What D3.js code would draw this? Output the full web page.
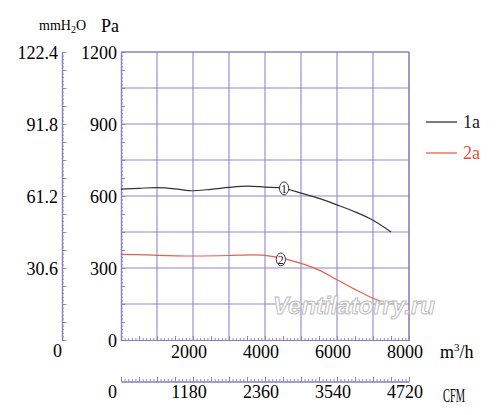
<!DOCTYPE html>
<html><head><meta charset="utf-8">
<script src="https://cdn.jsdelivr.net/npm/d3@7"></script>
<style>body{margin:0;background:#fff}svg{display:block}text{font-family:"Liberation Serif","DejaVu Serif",serif}text.wm{font-family:"Liberation Sans",Arial,sans-serif}</style>
</head><body>
<svg id="c" width="500" height="415"></svg>
<script>
// ---- data ----
const flow1 = [0,500,1000,1500,1900,2500,3000,3500,4000,4500,5000,5500,6000,6500,7000,7500];
const pa1   = [629,632,635,630,622,628,636,641,637,633,612,590,563,534,499,450];
const flow2 = [0,500,1000,2000,3000,3600,4000,4500,5000,5500,6000,6500,7000,7240];
const pa2   = [357,356,353,350,352,355,353,340,319,291,251,211,174,160];
const seriesNames = ["1a","2a"];
const markerLabels = ["1","2"];
const markerFlow = [4530,4440];
const markerPa = [632,336];
const paTicks = [0,300,600,900,1200];
const mmTicks = [0,30.6,61.2,91.8,122.4];
const flowTicks = [2000,4000,6000,8000];
const cfmTicks = [0,1180,2360,3540,4720];

// ---- layout ----
const svg = d3.select("#c");
const L=121,R=409,T=52,B=340;
const x = d3.scaleLinear().domain([0,8000]).range([L,R]);
const y = d3.scaleLinear().domain([0,1200]).range([B,T]);
const ymm = d3.scaleLinear().domain([0,122.4]).range([B,T]);
const xc = d3.scaleLinear().domain([0,4720]).range([L,R]);
const gridC="#9486cc", axC="#8a7cc4";
const colors=["#333333","#e8604c"];

// grid
const g = svg.append("g");
g.selectAll(".v").data(d3.range(1000,8001,1000)).join("line")
 .attr("x1",d=>x(d)).attr("x2",d=>x(d)).attr("y1",T).attr("y2",B)
 .attr("stroke",gridC).attr("stroke-width",1.1);
g.selectAll(".h").data(d3.range(150,1201,150)).join("line")
 .attr("x1",L).attr("x2",R).attr("y1",d=>y(d)).attr("y2",d=>y(d))
 .attr("stroke",gridC).attr("stroke-width",1.1);

function styleAxis(sel){sel.select(".domain").attr("stroke",axC).attr("stroke-width",1.2);
  sel.selectAll(".tick line").attr("stroke",axC).attr("stroke-width",0.9);
  sel.selectAll("text").remove();}

// Pa axis, ticks inside
svg.append("g").attr("transform",`translate(${L},0)`)
 .call(d3.axisRight(y).tickValues(d3.range(0,1201,15)).tickSize(2).tickSizeOuter(0)).call(styleAxis);
svg.append("g").attr("transform",`translate(${L},0)`)
 .call(d3.axisRight(y).tickValues(d3.range(0,1201,75)).tickSize(4).tickSizeOuter(0)).call(styleAxis);
// mm axis
svg.append("g").attr("transform",`translate(62,0)`)
 .call(d3.axisRight(ymm).tickValues(d3.range(0,81).map(i=>i*1.53)).tickSize(2).tickSizeOuter(0)).call(styleAxis);
svg.append("g").attr("transform",`translate(62,0)`)
 .call(d3.axisRight(ymm).tickValues(d3.range(0,17).map(i=>i*7.65)).tickSize(4.5).tickSizeOuter(0)).call(styleAxis);
// flow axis bottom
svg.append("g").attr("transform",`translate(0,${B})`)
 .call(d3.axisTop(x).tickValues(d3.range(0,8001,100)).tickSize(2).tickSizeOuter(0)).call(styleAxis);
svg.append("g").attr("transform",`translate(0,${B})`)
 .call(d3.axisTop(x).tickValues(d3.range(0,8001,500)).tickSize(4).tickSizeOuter(0)).call(styleAxis);
// top & right border
svg.append("line").attr("x1",L).attr("x2",R).attr("y1",T).attr("y2",T).attr("stroke",axC).attr("stroke-width",1.2);
svg.append("line").attr("x1",R).attr("x2",R).attr("y1",T).attr("y2",B).attr("stroke",axC).attr("stroke-width",1.2);
// CFM axis
svg.append("g").attr("transform",`translate(0,381.5)`)
 .call(d3.axisTop(xc).tickValues(d3.range(0,4720.1,59)).tickSize(2.5).tickSizeOuter(0)).call(styleAxis);
svg.append("g").attr("transform",`translate(0,381.5)`)
 .call(d3.axisTop(xc).tickValues(d3.range(0,4720.1,295)).tickSize(4.5).tickSizeOuter(0)).call(styleAxis);

// labels
svg.selectAll(".pl").data(paTicks).join("text")
 .attr("x",117).attr("y",d=>y(d)+6.5).attr("text-anchor","end").attr("font-size",18).text(d=>d);
svg.selectAll(".ml").data(mmTicks).join("text")
 .attr("x",d=>d===0?57.5:58).attr("y",d=>d===0?ymm(d)+17:ymm(d)+6.5)
 .attr("text-anchor",d=>d===0?"middle":"end").attr("font-size",18)
 .text(d=>d===0?"0":d.toFixed(1));
svg.selectAll(".fl").data(flowTicks).join("text")
 .attr("x",d=>x(d)-4).attr("y",358).attr("text-anchor","middle").attr("font-size",18).text(d=>d);
svg.selectAll(".cl").data(cfmTicks).join("text")
 .attr("x",d=>d===0?112.5:xc(d)-4).attr("y",397.5).attr("text-anchor","middle").attr("font-size",18).text(d=>d);

const m3 = svg.append("text").attr("x",440).attr("y",358).attr("font-size",18);
m3.append("tspan").text("m");
m3.append("tspan").attr("font-size",11).attr("dy",-7).text("3");
m3.append("tspan").attr("dy",7).text("/h");
svg.append("text").attr("x",443).attr("y",401.5).attr("font-size",19).attr("textLength",22).attr("lengthAdjust","spacingAndGlyphs").text("CFM");
svg.append("text").attr("x",101).attr("y",32).attr("font-size",19).attr("textLength",18).attr("lengthAdjust","spacingAndGlyphs").text("Pa");
const mm = svg.append("text").attr("x",39).attr("y",30).attr("font-size",14);
mm.append("tspan").text("mmH");
mm.append("tspan").attr("font-size",10).attr("dy",3).text("2");
mm.append("tspan").attr("dy",-3).text("O");

// curves
const line = d3.line().x(d=>x(d[0])).y(d=>y(d[1])).curve(d3.curveCatmullRom.alpha(0.5));
const series=[d3.zip(flow1,pa1), d3.zip(flow2,pa2)];
svg.selectAll(".curve").data(series).join("path")
 .attr("d",line).attr("fill","none").attr("stroke",(d,i)=>colors[i]).attr("stroke-width",1.2);

// markers
markerLabels.forEach((lab,i)=>{
  const cx=x(markerFlow[i]), cy=y(markerPa[i]);
  svg.append("ellipse").attr("cx",cx).attr("cy",cy).attr("rx",4.6).attr("ry",6.4)
   .attr("fill","#fff").attr("stroke","#222").attr("stroke-width",0.9);
  svg.append("text").attr("x",cx).attr("y",cy+4.5).attr("text-anchor","middle").attr("font-size",12).attr("fill","#222").text(lab);
});

// legend
seriesNames.forEach((n,i)=>{
  const ly = 122 + i*31;
  svg.append("line").attr("x1",426).attr("x2",457).attr("y1",ly).attr("y2",ly).attr("stroke",colors[i]).attr("stroke-width",1.3);
  svg.append("text").attr("x",463).attr("y",ly+6).attr("font-size",18).attr("fill",i===0?"#222":"#e8503a").text(n);
});

// watermark
svg.append("text").attr("class","wm").attr("x",273).attr("y",314).attr("font-size",24)
 .attr("font-weight","bold").attr("font-style","italic")
 .attr("fill","#fff").attr("stroke","#bcbcbc").attr("stroke-width",1)
 .attr("textLength",162).attr("lengthAdjust","spacingAndGlyphs").text("Ventilatorry.ru");
</script>
</body></html>
